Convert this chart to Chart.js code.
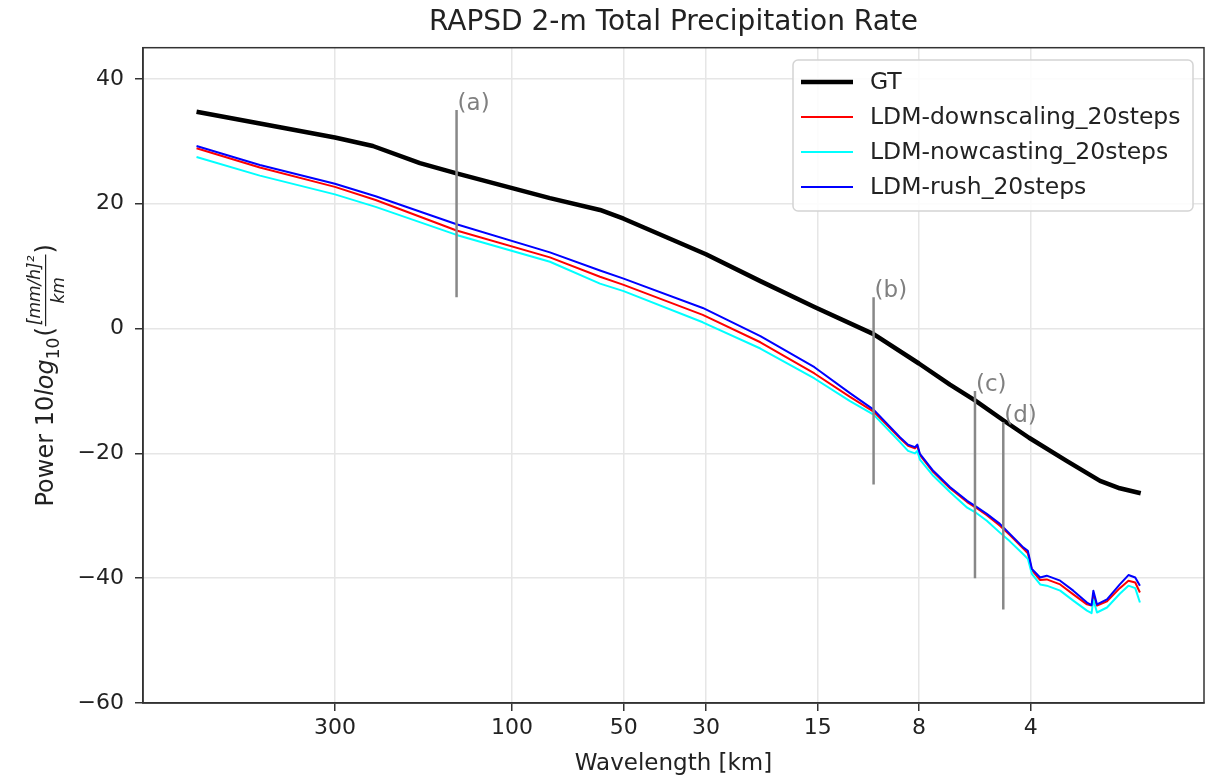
<!DOCTYPE html>
<html>
<head>
<meta charset="utf-8">
<script src="https://cdn.jsdelivr.net/npm/chart.js@4.4.0/dist/chart.umd.min.js"></script>
<style>
  body { margin: 0; background: #fff; }
  #wrap { width: 1206px; height: 778px; }
</style>
</head>
<body>
<div id="wrap"><canvas id="c"></canvas></div>
<script>
// ground truth spectrum, wavelength in km
const gtWavelength = [708, 478, 300, 237, 177, 141, 79, 57.9, 50, 30, 21.4, 15.3, 10.6, 8.0, 6.60, 5.65, 4.74, 4.04, 3.20, 2.60, 2.30, 2.02];
const gtPower = [34.75, 32.85, 30.6, 29.25, 26.5, 24.86, 20.9, 19.0, 17.6, 11.9, 7.6, 3.45, -0.9, -5.6, -9.0, -11.5, -14.7, -17.5, -21.2, -24.4, -25.6, -26.4];

// the three model spectra share the same wavelengths
const ldmWavelength = [708, 478, 300, 233, 141, 79, 57.9, 50, 30.6, 21.4, 15.3, 12.3, 10.6, 9.0, 8.56, 8.2, 8.08, 7.95, 7.32, 6.60, 5.93, 5.65, 5.25, 4.84, 4.55, 4.18, 4.07, 3.97, 3.77, 3.62, 3.33, 3.07, 2.82, 2.74, 2.71, 2.65, 2.49, 2.30, 2.18, 2.09, 2.03];
const downscalingPower = [28.9, 25.8, 22.7, 20.6, 15.7, 11.4, 8.3, 7.0, 2.2, -2.2, -7.2, -10.9, -13.3, -17.6, -18.8, -19.2, -18.8, -20.3, -23.0, -25.6, -27.8, -28.6, -29.9, -31.6, -33.1, -35.3, -36.0, -38.7, -40.3, -40.2, -41.0, -42.6, -44.2, -44.4, -42.8, -44.4, -43.7, -41.6, -40.4, -40.7, -42.3];
const nowcastingPower = [27.5, 24.5, 21.5, 19.5, 15.0, 10.7, 7.2, 6.0, 1.0, -3.2, -8.0, -11.6, -13.8, -18.2, -19.6, -20.0, -19.6, -21.0, -23.6, -26.2, -28.7, -29.4, -30.8, -32.7, -34.1, -36.2, -36.9, -39.3, -41.0, -41.2, -42.0, -43.6, -45.2, -45.6, -43.4, -45.5, -44.7, -42.5, -41.2, -41.6, -43.9];
const rushPower = [29.25, 26.2, 23.2, 21.2, 16.7, 12.2, 9.3, 8.0, 3.3, -1.2, -6.2, -10.3, -13.0, -17.4, -18.6, -19.0, -18.6, -20.1, -22.8, -25.4, -27.6, -28.4, -29.7, -31.3, -32.9, -35.1, -35.6, -38.5, -39.9, -39.6, -40.4, -42.0, -43.9, -44.3, -42.0, -44.2, -43.4, -41.0, -39.5, -39.9, -41.2];

// marker lines (a)-(d)
const markWavelength = [141, 10.6, 5.65, 4.74];
const markLow = [5, -25, -40, -45];
const markHigh = [35, 5, -10, -15];
const markText = ['(a)', '(b)', '(c)', '(d)'];

const xTicks = [300, 100, 50, 30, 15, 8, 4];
const xTickLabels = ['300', '100', '50', '30', '15', '8', '4'];
const yTicks = [-60, -40, -20, 0, 20, 40];

Chart.defaults.font.family = '"DejaVu Sans", sans-serif';
Chart.defaults.color = '#222';

function pts(xs, ys) { return xs.map((x, i) => ({x: x, y: ys[i]})); }

const series = [
  {label: 'GT', xs: gtWavelength, ys: gtPower, color: '#000000', width: 4.5, order: 5},
  {label: 'LDM-downscaling_20steps', xs: ldmWavelength, ys: downscalingPower, color: '#ff0000', width: 2, order: 4},
  {label: 'LDM-nowcasting_20steps', xs: ldmWavelength, ys: nowcastingPower, color: '#00ffff', width: 2, order: 3},
  {label: 'LDM-rush_20steps', xs: ldmWavelength, ys: rushPower, color: '#0000ff', width: 2, order: 2}
];

const datasets = series.map(s => ({
  label: s.label, data: pts(s.xs, s.ys), borderColor: s.color, borderWidth: s.width,
  pointRadius: 0, tension: 0, fill: false, order: s.order, borderJoinStyle: 'round'
}));
markWavelength.forEach((w, i) => {
  datasets.push({
    label: markText[i], data: [{x: w, y: markLow[i]}, {x: w, y: markHigh[i]}],
    borderColor: '#888888', borderWidth: 2.5, pointRadius: 0, order: 1
  });
});

const framePlugin = {
  id: 'frame',
  afterDatasetsDraw(chart) {
    const {ctx, chartArea: a} = chart;
    ctx.save();
    ctx.strokeStyle = '#333';
    ctx.lineWidth = 1.5;
    ctx.strokeRect(a.left, a.top, a.right - a.left, a.bottom - a.top);
    // marker labels
    const xs = chart.scales.x, ys = chart.scales.y;
    ctx.fillStyle = '#808080';
    ctx.font = '23px "DejaVu Sans"';
    ctx.textAlign = 'left';
    ctx.textBaseline = 'alphabetic';
    markText.forEach((t, i) => {
      ctx.fillText(t, xs.getPixelForValue(markWavelength[i]) + 1, ys.getPixelForValue(markHigh[i]));
    });
    ctx.restore();
  }
};

const legendPlugin = {
  id: 'boxLegend',
  afterDraw(chart) {
    const ctx = chart.ctx;
    const x0 = 793, y0 = 60, w = 400, h = 151, r = 5;
    ctx.save();
    ctx.beginPath();
    ctx.roundRect(x0, y0, w, h, r);
    ctx.fillStyle = 'rgba(255,255,255,0.85)';
    ctx.fill();
    ctx.strokeStyle = '#d4d4d4';
    ctx.lineWidth = 1.5;
    ctx.stroke();
    ctx.font = '23.5px "DejaVu Sans"';
    ctx.textBaseline = 'middle';
    ctx.fillStyle = '#222';
    series.forEach((s, i) => {
      const y = 82 + 35 * i;
      ctx.beginPath();
      ctx.moveTo(801, y);
      ctx.lineTo(853, y);
      ctx.strokeStyle = s.color;
      ctx.lineWidth = s.width;
      ctx.stroke();
      ctx.fillText(s.label, 870, y + 1);
    });
    ctx.restore();
  }
};

const yLabelPlugin = {
  id: 'yLabel',
  afterDraw(chart) {
    const ctx = chart.ctx;
    const a = chart.chartArea;
    const cy = (a.top + a.bottom) / 2;
    const cx = 53;
    const big = '24px "DejaVu Sans"';
    const bigIt = 'italic 24px "DejaVu Sans"';
    const sub = '17px "DejaVu Sans"';
    const small = 'italic 17px "DejaVu Sans"';
    ctx.save();
    ctx.fillStyle = '#222';
    ctx.textBaseline = 'alphabetic';
    ctx.textAlign = 'left';
    const m = (f, t) => { ctx.font = f; return ctx.measureText(t).width; };
    const w1 = m(big, 'Power 10'), w2 = m(bigIt, 'log'), w3 = m(sub, '10'), w4 = m(big, '(');
    const wn = m(small, '[mm/h]²'), wd = m(small, 'km');
    const wf = Math.max(wn, wd) + 4;
    const w6 = m(big, ')');
    const total = w1 + w2 + w3 + 1 + w4 + wf + w6;
    ctx.translate(cx, cy);
    ctx.rotate(-Math.PI / 2);
    let u = -total / 2;
    ctx.font = big; ctx.fillText('Power 10', u, 0); u += w1;
    ctx.font = bigIt; ctx.fillText('log', u, 0); u += w2;
    ctx.font = sub; ctx.fillText('10', u, 6); u += w3 + 1;
    ctx.font = big; ctx.fillText('(', u, 0); u += w4;
    ctx.font = small;
    ctx.fillText('[mm/h]²', u + (wf - wn) / 2, -13);
    ctx.fillText('km', u + (wf - wd) / 2, 11);
    ctx.fillRect(u + 1, -8, wf - 2, 1.2);
    u += wf;
    ctx.font = big; ctx.fillText(')', u, 0);
    ctx.restore();
  }
};

new Chart(document.getElementById('c'), {
  type: 'line',
  data: {datasets: datasets},
  options: {
    responsive: true,
    maintainAspectRatio: false,
    animation: false,
    layout: {padding: {left: 0, right: 2, top: 0, bottom: 0}},
    plugins: {
      legend: {display: false},
      tooltip: {enabled: false},
      title: {
        display: true, text: 'RAPSD 2-m Total Precipitation Rate', fullSize: false,
        font: {size: 28, weight: 'normal'}, color: '#222', padding: {top: 6, bottom: 8.1}
      }
    },
    scales: {
      x: {
        type: 'logarithmic', reverse: true, min: 1.364, max: 987,
        afterBuildTicks: s => { s.ticks = xTicks.map(v => ({value: v})); },
        afterFit: s => { s.height = 75; },
        ticks: {
          autoSkip: false, maxRotation: 0, minRotation: 0, padding: 4,
          font: {size: 22}, color: '#222',
          callback: (v, i) => xTickLabels[i]
        },
        grid: {color: '#e6e6e6', lineWidth: 1.5, tickColor: '#333', tickLength: 8, tickWidth: 1.5},
        border: {display: true, color: '#333', width: 1.5},
        title: {display: true, text: 'Wavelength [km]', font: {size: 23}, color: '#222', padding: {top: 0, bottom: 0}}
      },
      y: {
        type: 'linear', min: -60, max: 45,
        afterBuildTicks: s => { s.ticks = yTicks.map(v => ({value: v})); },
        afterFit: s => { s.width = 143; },
        ticks: {
          padding: 11, font: {size: 22}, color: '#222',
          callback: v => v < 0 ? '\u2212' + Math.abs(v) : String(v)
        },
        grid: {color: '#e6e6e6', lineWidth: 1.5, tickColor: '#333', tickLength: 8, tickWidth: 1.5},
        border: {display: true, color: '#333', width: 1.5}
      }
    }
  },
  plugins: [framePlugin, legendPlugin, yLabelPlugin]
});
</script>
</body>
</html>
